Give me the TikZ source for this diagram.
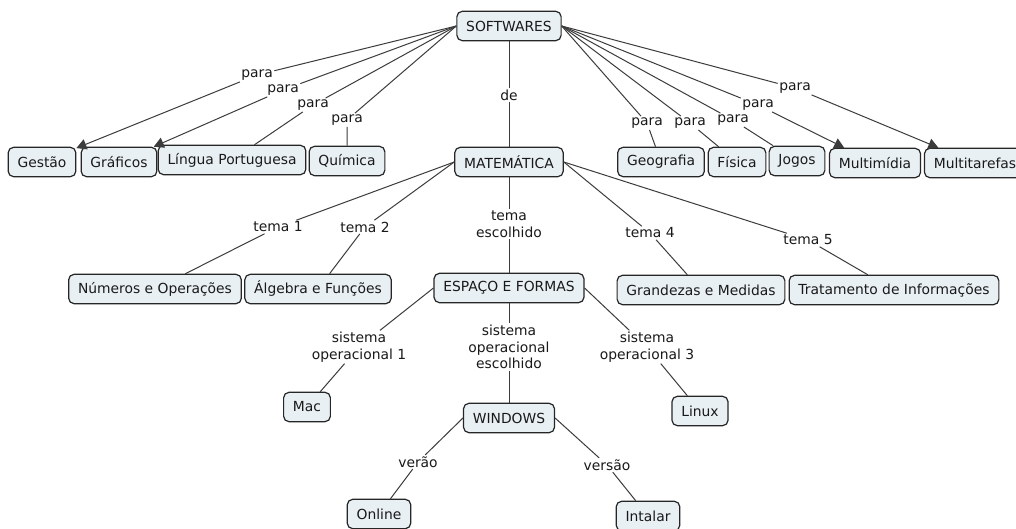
\documentclass[tikz,border=0pt]{standalone}
\usepackage{fontspec}
\setmainfont{DejaVu Sans}
\usetikzlibrary{arrows.meta}
\definecolor{cfill}{RGB}{233,240,244}
\definecolor{cline}{RGB}{60,60,60}

\begin{document}
\begin{tikzpicture}[
  x=0.75pt, y=-0.75pt,
  font=\fontsize{10.4}{12.5}\selectfont, >={Triangle[length=7.5pt,width=8pt]},
  concept/.style={draw=black!85, line width=0.9pt, rounded corners=4pt, fill=cfill, inner xsep=7pt, minimum height=22pt, text=black!90},
  link/.style={inner sep=1pt, align=center, text=black!90},
  conn/.style={draw=cline, line width=0.75pt},
]
\fill[white] (0,0) rectangle (1016,528);
\useasboundingbox (0,0) rectangle (1016,528);
% top concept and the subject
\node[concept] (sw) at (509,26) {SOFTWARES};
\node[concept] (mat) at (509,162) {MATEMÁTICA};
% uses of software, left row
\node[concept] (ges) at (42,162) {Gestão};
\node[concept] (gra) at (119,162) {Gráficos};
\node[concept] (lin) at (232,160) {Língua Portuguesa};
\node[concept] (qui) at (347,161) {Química};
% uses of software, right row
\node[concept] (geo) at (661,162) {Geografia};
\node[concept] (fis) at (737,162) {Física};
\node[concept] (jog) at (797,161) {Jogos};
\node[concept] (mul) at (875,163) {Multimídia};
\node[concept] (mta) at (975,163) {Multitarefas};
% themes
\node[concept] (num) at (155,289) {Números e Operações};
\node[concept] (alg) at (318,289) {Álgebra e Funções};
\node[concept] (esp) at (509,288) {ESPAÇO E FORMAS};
\node[concept] (gan) at (701,290) {Grandezas e Medidas};
\node[concept] (tra) at (894,290) {Tratamento de Informações};
% operating systems
\node[concept] (mac) at (307,407) {Mac};
\node[concept] (win) at (509,418) {WINDOWS};
\node[concept] (lnx) at (700,411) {Linux};
\node[concept] (onl) at (379,514) {Online};
\node[concept] (ins) at (648,516) {Intalar};
% link words
\node[link] (p1) at (257,75) {para};
\node[link] (p2) at (283,90) {para};
\node[link] (p3) at (313,105) {para};
\node[link] (p4) at (347,120) {para};
\node[link] (de) at (509,95) {de};
\node[link] (p5) at (647,123) {para};
\node[link] (p6) at (690,123) {para};
\node[link] (p7) at (733,120) {para};
\node[link] (p8) at (758,105) {para};
\node[link] (p9) at (795,88) {para};
\node[link] (t1) at (278,227) {tema 1};
\node[link] (t2) at (365,227) {tema 2};
\node[link] (t3) at (509,224) {tema\\escolhido};
\node[link] (t4) at (650,233) {tema 4};
\node[link] (t5) at (808,240) {tema 5};
\node[link] (s1) at (359,347) {sistema\\operacional 1};
\node[link] (s2) at (509,347) {sistema\\operacional\\escolhido};
\node[link] (s3) at (647,347) {sistema\\operacional 3};
\node[link] (v1) at (418,462) {verão};
\node[link] (v2) at (607,465) {versão};
% SOFTWARES -> uses
\draw[conn, ->] (sw.west) -- (p1) -- (ges);
\draw[conn, ->] (sw.west) -- (p2) -- (gra);
\draw[conn] (sw.west) -- (p3) -- (lin);
\draw[conn] (sw.west) -- (p4) -- (qui);
\draw[conn] (sw) -- (de) -- (mat);
\draw[conn] (sw.east) -- (p5) -- (geo);
\draw[conn] (sw.east) -- (p6) -- (fis);
\draw[conn] (sw.east) -- (p7) -- (jog);
\draw[conn, ->] (sw.east) -- (p8) -- (mul);
\draw[conn, ->] (sw.east) -- (p9) -- (mta);
% MATEMÁTICA -> themes
\draw[conn] (mat.west) -- (t1) -- (num);
\draw[conn] (mat.west) -- (t2) -- (alg);
\draw[conn] (mat) -- (t3) -- (esp);
\draw[conn] (mat.east) -- (t4) -- (gan);
\draw[conn] (mat.east) -- (t5) -- (tra);
% ESPAÇO E FORMAS -> systems
\draw[conn] (esp.west) -- (s1) -- (mac);
\draw[conn] (esp) -- (s2) -- (win);
\draw[conn] (esp.east) -- (s3) -- (lnx);
% WINDOWS -> versions
\draw[conn] (win.west) -- (v1) -- (onl);
\draw[conn] (win.east) -- (v2) -- (ins);
\end{tikzpicture}
\end{document}
